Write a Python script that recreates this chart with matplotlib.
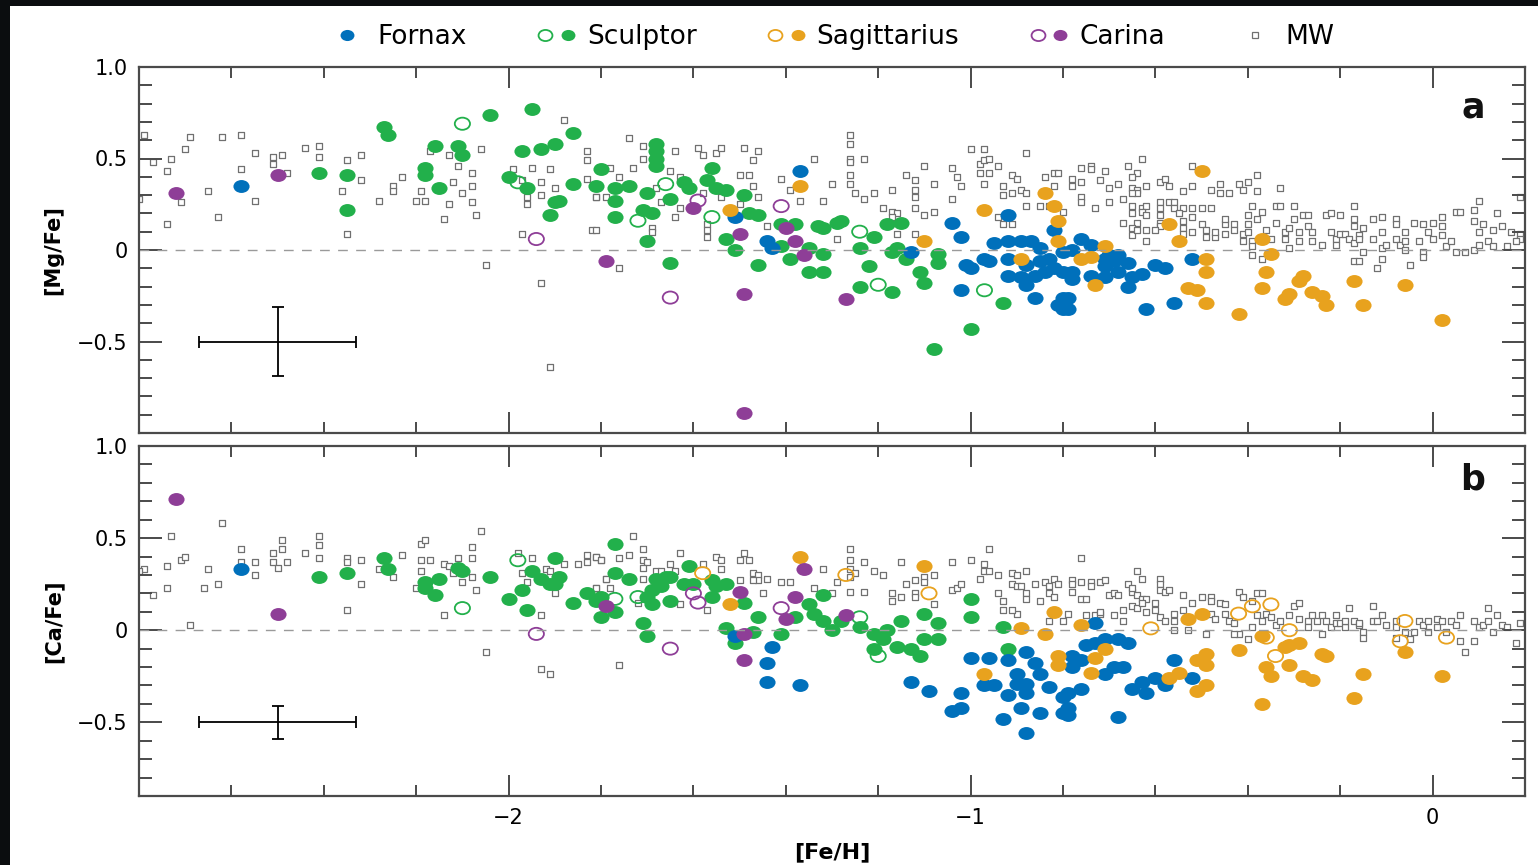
"""Mg/Fe and Ca/Fe against Fe/H for dwarf galaxies and the Milky Way"""
import numpy as np
import matplotlib
matplotlib.use("Agg")
import matplotlib.pyplot as plt
from matplotlib.path import Path
from matplotlib.lines import Line2D
from matplotlib.legend_handler import HandlerTuple
from matplotlib.ticker import MultipleLocator, FuncFormatter

BLUE = "#0070bb"
GREEN = "#22b04b"
ORANGE = "#e8a21e"
PURPLE = "#8e3e97"
MW_GRAY = "#707070"
AXIS_GRAY = "#4a4a4a"

plt.rcParams.update({
    "xtick.direction": "in", "ytick.direction": "in",
    "xtick.top": True, "ytick.right": True,
    "xtick.major.size": 15, "xtick.minor.size": 8,
    "ytick.major.size": 16.5, "ytick.minor.size": 9.5,
    "xtick.major.width": 1.4, "xtick.minor.width": 1.4,
    "ytick.major.width": 1.4, "ytick.minor.width": 1.4,
    "xtick.major.pad": 9, "ytick.major.pad": 8,
    "xtick.labelsize": 15, "ytick.labelsize": 15,
    "xtick.minor.visible": True, "ytick.minor.visible": True,
})

# ---- panel a : [Mg/Fe] ----
mg_fornax = [(-2.58, 0.35), (-1.51, 0.18), (-1.37, 0.43), (-1.44, 0.05), (-1.43, 0.01),
             (-1.13, -0.01), (-1.04, 0.15), (-1.02, 0.07), (-0.92, 0.19), (-1.02, -0.22),
             (-1.01, -0.08), (-1.00, -0.10), (-0.97, -0.05), (-0.95, 0.04), (-0.92, 0.05),
             (-0.89, 0.05), (-0.87, 0.05), (-0.85, 0.01), (-0.96, -0.06), (-0.92, -0.05),
             (-0.88, -0.08), (-0.85, -0.06), (-0.83, -0.05), (-0.80, -0.01), (-0.92, -0.14),
             (-0.89, -0.15), (-0.86, -0.14), (-0.84, -0.12), (-0.88, -0.19), (-0.82, -0.10),
             (-0.86, -0.26), (-0.80, -0.26), (-0.80, -0.32), (-0.82, 0.11), (-0.80, -0.12),
             (-0.78, 0.00), (-0.76, 0.06), (-0.74, 0.03), (-0.78, -0.12), (-0.78, -0.16),
             (-0.74, -0.14), (-0.71, -0.05), (-0.70, -0.03), (-0.68, -0.03), (-0.69, -0.06),
             (-0.71, -0.09), (-0.68, -0.12), (-0.66, -0.07), (-0.65, -0.15), (-0.66, -0.20),
             (-0.71, -0.15), (-0.63, -0.13), (-0.60, -0.08), (-0.58, -0.10), (-0.79, -0.26),
             (-0.79, -0.32), (-0.81, -0.30), (-0.62, -0.32), (-0.56, -0.29), (-0.52, -0.05)]
mg_sculptor = [(-2.41, 0.42), (-2.35, 0.41), (-2.35, 0.22), (-2.27, 0.67), (-2.26, 0.63),
               (-2.04, 0.74), (-1.95, 0.77), (-2.16, 0.57), (-2.18, 0.45), (-2.18, 0.41),
               (-2.15, 0.34), (-2.11, 0.57), (-2.10, 0.52), (-1.97, 0.54), (-1.93, 0.55),
               (-1.90, 0.58), (-1.86, 0.64), (-2.00, 0.40), (-1.96, 0.34), (-1.86, 0.36),
               (-1.90, 0.26), (-1.89, 0.27), (-1.91, 0.19), (-1.80, 0.44), (-1.81, 0.35),
               (-1.77, 0.34), (-1.74, 0.35), (-1.77, 0.27), (-1.77, 0.18), (-1.70, 0.31),
               (-1.71, 0.22), (-1.69, 0.20), (-1.70, 0.05), (-1.68, 0.58), (-1.68, 0.54),
               (-1.68, 0.50), (-1.68, 0.46), (-1.65, 0.28), (-1.65, -0.07), (-1.62, 0.37),
               (-1.61, 0.34), (-1.57, 0.38), (-1.56, 0.45), (-1.55, 0.34), (-1.53, 0.33),
               (-1.49, 0.30), (-1.48, 0.20), (-1.46, 0.19), (-1.53, 0.06), (-1.51, 0.00),
               (-1.46, -0.08), (-1.41, 0.14), (-1.38, 0.14), (-1.41, 0.02), (-1.39, -0.05),
               (-1.35, -0.12), (-1.32, -0.12), (-1.32, -0.02), (-1.35, 0.01), (-1.33, 0.13),
               (-1.32, 0.12), (-1.29, 0.15), (-1.28, 0.16), (-1.24, 0.01), (-1.22, -0.09),
               (-1.24, -0.20), (-1.17, -0.23), (-1.21, 0.07), (-1.18, 0.14), (-1.15, 0.15),
               (-1.17, -0.01), (-1.16, 0.01), (-1.14, -0.05), (-1.07, -0.02), (-1.07, -0.07),
               (-1.11, -0.12), (-1.10, -0.18), (-0.93, -0.29), (-1.00, -0.43), (-1.08, -0.54)]
mg_sculptor_open = [(-2.10, 0.69), (-1.98, 0.37), (-1.66, 0.36), (-1.72, 0.16), (-1.56, 0.18),
                    (-1.24, 0.10), (-1.20, -0.19), (-0.97, -0.22)]
mg_sagittarius = [(-1.52, 0.22), (-1.37, 0.35), (-1.10, 0.05), (-0.97, 0.22), (-0.89, -0.05),
                  (-0.84, 0.31), (-0.82, 0.24), (-0.81, 0.16), (-0.81, 0.05), (-0.71, 0.02),
                  (-0.76, -0.05), (-0.74, -0.04), (-0.73, -0.19), (-0.57, 0.14), (-0.55, 0.05),
                  (-0.50, 0.43), (-0.49, -0.05), (-0.49, -0.12), (-0.53, -0.21), (-0.51, -0.22),
                  (-0.49, -0.29), (-0.42, -0.35), (-0.37, 0.06), (-0.35, -0.02), (-0.36, -0.12),
                  (-0.37, -0.21), (-0.32, -0.27), (-0.31, -0.24), (-0.28, -0.14), (-0.29, -0.17),
                  (-0.26, -0.23), (-0.24, -0.25), (-0.23, -0.30), (-0.17, -0.17), (-0.15, -0.30),
                  (-0.06, -0.19), (0.02, -0.38)]
mg_sagittarius_open = []
mg_carina = [(-2.72, 0.31), (-2.50, 0.41), (-1.79, -0.06), (-1.60, 0.23), (-1.50, 0.09),
             (-1.49, -0.24), (-1.49, -0.89), (-1.40, 0.12), (-1.38, 0.05), (-1.36, -0.03),
             (-1.27, -0.27)]
mg_carina_open = [(-1.94, 0.06), (-1.59, 0.27), (-1.65, -0.26), (-1.41, 0.24)]
mg_mw = [(-2.79, 0.63), (-2.77, 0.48), (-2.73, 0.50), (-2.74, 0.43), (-2.70, 0.55), (-2.69, 0.62),
         (-2.62, 0.62), (-2.58, 0.63), (-2.71, 0.26), (-2.80, 0.28), (-2.74, 0.14), (-2.65, 0.32),
         (-2.63, 0.18), (-2.58, 0.44), (-2.55, 0.53), (-2.55, 0.27), (-2.51, 0.51), (-2.51, 0.47),
         (-2.49, 0.52), (-2.48, 0.42), (-2.44, 0.56), (-2.41, 0.57), (-2.41, 0.51), (-2.35, 0.49),
         (-2.32, 0.52), (-2.32, 0.38), (-2.36, 0.32), (-2.35, 0.09), (-2.28, 0.27), (-2.25, 0.35),
         (-2.25, 0.32), (-2.23, 0.40), (-2.20, 0.27), (-2.18, 0.27), (-2.19, 0.32), (-2.17, 0.54),
         (-2.13, 0.52), (-2.11, 0.46), (-2.12, 0.37), (-2.13, 0.25), (-2.14, 0.17), (-2.10, 0.31),
         (-2.08, 0.42), (-2.08, 0.35), (-2.08, 0.26), (-2.07, 0.19), (-2.06, 0.55), (-2.05, -0.08),
         (-1.99, 0.44), (-1.97, 0.09), (-1.96, 0.29), (-1.96, 0.25), (-1.95, 0.45), (-1.93, 0.37),
         (-1.93, 0.30), (-1.93, -0.18), (-1.91, 0.44), (-1.90, 0.34), (-1.91, -0.64), (-1.88, 0.71),
         (-1.83, 0.54), (-1.83, 0.49), (-1.83, 0.39), (-1.82, 0.11), (-1.81, 0.29), (-1.97, 0.38),
         (-1.74, 0.61), (-1.71, 0.57), (-1.71, 0.50), (-1.64, 0.54), (-1.59, 0.56), (-1.58, 0.52),
         (-1.55, 0.53), (-1.54, 0.56), (-1.49, 0.56), (-1.46, 0.54), (-1.47, 0.49), (-1.34, 0.50),
         (-1.26, 0.63), (-1.26, 0.58), (-1.26, 0.50), (-1.26, 0.48), (-1.23, 0.50), (-1.26, 0.41),
         (-1.26, 0.36), (-1.30, 0.36), (-1.41, 0.39), (-1.46, 0.29), (-1.47, 0.35), (-1.50, 0.41),
         (-1.48, 0.41), (-1.50, 0.25), (-1.54, 0.29), (-1.58, 0.31), (-1.57, 0.14), (-1.57, 0.11),
         (-1.57, 0.07), (-1.67, 0.26), (-1.68, 0.34), (-1.64, 0.18), (-1.63, 0.23), (-1.65, 0.43),
         (-1.63, 0.40), (-1.69, 0.12), (-1.69, 0.10), (-1.73, 0.45), (-1.76, 0.40), (-1.76, -0.10),
         (-1.78, 0.45), (-1.79, 0.29), (-1.81, 0.29), (-1.81, 0.11), (-1.44, 0.13), (-1.39, 0.33),
         (-1.37, 0.27), (-1.32, 0.27), (-1.29, 0.06), (-1.25, 0.31), (-1.23, 0.28), (-1.21, 0.31),
         (-1.19, 0.23), (-1.17, 0.33), (-1.17, 0.21), (-1.16, 0.20), (-1.17, 0.18), (-1.16, 0.09),
         (-1.14, 0.41), (-1.12, 0.38), (-1.12, 0.33), (-1.12, 0.29), (-1.12, 0.23), (-1.12, 0.09),
         (-1.10, 0.46), (-1.10, 0.19), (-1.08, 0.36), (-1.08, 0.21), (-1.04, 0.45), (-1.04, 0.28),
         (-1.03, 0.40), (-1.02, 0.35), (-1.00, 0.55), (-0.97, 0.55), (-0.98, 0.47), (-0.97, 0.49),
         (-0.96, 0.50), (-0.94, 0.46), (-0.98, 0.42), (-0.96, 0.42), (-0.97, 0.36), (-0.91, 0.41),
         (-0.90, 0.39), (-0.93, 0.35), (-0.91, 0.31), (-0.93, 0.30), (-0.89, 0.33), (-0.88, 0.31),
         (-0.88, 0.24), (-0.93, 0.14), (-0.91, 0.14), (-0.88, 0.53), (-0.84, 0.40), (-0.82, 0.42),
         (-0.81, 0.42), (-0.82, 0.35), (-0.85, 0.24), (-0.83, 0.24), (-0.80, 0.21), (-0.94, 0.18),
         (-0.63, 0.50), (-0.74, 0.46), (-0.76, 0.45), (-0.74, 0.44), (-0.71, 0.43), (-0.66, 0.46),
         (-0.64, 0.42), (-0.65, 0.40), (-0.52, 0.46), (-0.78, 0.39), (-0.78, 0.35), (-0.76, 0.37),
         (-0.72, 0.38), (-0.70, 0.34), (-0.68, 0.36), (-0.65, 0.34), (-0.64, 0.33), (-0.64, 0.31),
         (-0.62, 0.35), (-0.59, 0.37), (-0.58, 0.39), (-0.57, 0.35), (-0.52, 0.35), (-0.54, 0.32),
         (-0.48, 0.33), (-0.46, 0.36), (-0.44, 0.31), (-0.42, 0.36), (-0.40, 0.37), (-0.41, 0.33),
         (-0.38, 0.41), (-0.38, 0.32), (-0.33, 0.34), (-0.46, 0.31), (-0.76, 0.29), (-0.76, 0.26),
         (-0.73, 0.23), (-0.70, 0.26), (-0.67, 0.28), (-0.65, 0.31), (-0.65, 0.24), (-0.63, 0.23),
         (-0.62, 0.24), (-0.65, 0.20), (-0.63, 0.21), (-0.62, 0.19), (-0.59, 0.26), (-0.59, 0.23),
         (-0.57, 0.26), (-0.56, 0.26), (-0.56, 0.23), (-0.54, 0.23), (-0.52, 0.23), (-0.50, 0.23),
         (-0.48, 0.23), (-0.59, 0.19), (-0.55, 0.20), (-0.52, 0.18), (-0.59, 0.15), (-0.59, 0.13),
         (-0.67, 0.15), (-0.64, 0.15), (-0.65, 0.12), (-0.65, 0.08), (-0.62, 0.11), (-0.64, 0.11),
         (-0.62, 0.05), (-0.60, 0.11), (-0.54, 0.16), (-0.54, 0.12), (-0.54, 0.09), (-0.52, 0.10),
         (-0.50, 0.14), (-0.49, 0.11), (-0.49, 0.07), (-0.47, 0.07), (-0.47, 0.10), (-0.45, 0.14),
         (-0.45, 0.17), (-0.45, 0.09), (-0.43, 0.14), (-0.43, 0.11), (-0.41, 0.09), (-0.41, 0.05),
         (-0.40, 0.19), (-0.39, 0.24), (-0.37, 0.21), (-0.38, 0.17), (-0.40, 0.14), (-0.40, 0.10),
         (-0.39, 0.05), (-0.39, 0.02), (-0.39, -0.03), (-0.37, -0.05), (-0.36, 0.11), (-0.35, 0.06),
         (-0.34, 0.24), (-0.33, 0.24), (-0.34, 0.15), (-0.32, 0.10), (-0.30, 0.24), (-0.30, 0.17),
         (-0.31, 0.12), (-0.32, 0.06), (-0.31, 0.01), (-0.29, 0.10), (-0.29, 0.05), (-0.28, 0.19),
         (-0.27, 0.13), (-0.27, 0.19), (-0.26, 0.10), (-0.26, 0.05), (-0.24, 0.03), (-0.23, 0.19),
         (-0.22, 0.20), (-0.22, 0.10), (-0.21, 0.06), (-0.21, 0.03), (-0.20, 0.19), (-0.20, 0.09),
         (-0.19, 0.09), (-0.18, 0.06), (-0.17, 0.24), (-0.17, 0.17), (-0.17, 0.13), (-0.17, 0.04),
         (-0.16, 0.08), (-0.15, 0.12), (-0.16, 0.06), (-0.15, -0.01), (-0.17, -0.06), (-0.16, -0.06),
         (-0.13, 0.17), (-0.13, 0.06), (-0.11, 0.18), (-0.11, 0.10), (-0.11, 0.01), (-0.10, 0.03),
         (-0.11, -0.05), (-0.12, -0.10), (-0.08, 0.17), (-0.08, 0.14), (-0.08, 0.06), (-0.07, 0.03),
         (-0.06, 0.10), (-0.06, 0.05), (-0.06, 0.00), (-0.05, -0.08), (-0.04, 0.15), (-0.02, 0.14),
         (-0.03, 0.05), (-0.02, -0.01), (-0.02, -0.04), (-0.01, 0.10), (0.00, 0.06), (0.00, 0.15),
         (0.02, 0.18), (0.02, 0.13), (0.02, 0.08), (0.03, 0.02), (0.04, 0.05), (0.05, -0.01),
         (0.05, 0.21), (0.06, 0.21), (0.07, -0.01), (0.09, 0.22), (0.09, 0.16), (0.10, 0.27),
         (0.09, 0.00), (0.10, 0.03), (0.10, 0.10), (0.11, 0.14), (0.12, 0.05), (0.13, 0.11),
         (0.13, 0.02), (0.14, 0.20), (0.15, 0.13), (0.16, 0.02), (0.17, 0.10), (0.19, 0.09),
         (0.19, 0.06), (0.19, 0.29), (0.18, 0.05)]

# ---- panel b : [Ca/Fe] ----
ca_fornax = [(-2.58, 0.33), (-1.51, -0.03), (-1.43, -0.09), (-1.44, -0.18), (-1.44, -0.28),
             (-1.37, -0.30), (-1.13, -0.28), (-1.09, -0.33), (-1.02, -0.34), (-1.04, -0.44),
             (-1.02, -0.42), (-1.00, -0.15), (-0.96, -0.15), (-0.97, -0.30), (-0.95, -0.30),
             (-0.93, -0.48), (-0.92, -0.16), (-0.90, -0.24), (-0.88, -0.12), (-0.88, -0.29),
             (-0.92, -0.35), (-0.89, -0.42), (-0.85, -0.45), (-0.88, -0.56), (-0.88, -0.34),
             (-0.85, -0.24), (-0.83, -0.31), (-0.80, -0.36), (-0.80, -0.45), (-0.90, -0.29),
             (-0.86, -0.18), (-0.73, 0.04), (-0.75, -0.08), (-0.73, -0.07), (-0.71, -0.05),
             (-0.68, -0.05), (-0.66, -0.07), (-0.78, -0.14), (-0.76, -0.16), (-0.78, -0.20),
             (-0.71, -0.24), (-0.69, -0.20), (-0.67, -0.20), (-0.65, -0.32), (-0.76, -0.32),
             (-0.79, -0.34), (-0.79, -0.42), (-0.79, -0.46), (-0.63, -0.28), (-0.62, -0.34),
             (-0.60, -0.26), (-0.58, -0.30), (-0.56, -0.16), (-0.52, -0.26), (-0.68, -0.47)]
ca_sculptor = [(-2.41, 0.29), (-2.35, 0.31), (-2.27, 0.39), (-2.26, 0.33), (-2.18, 0.26),
               (-2.18, 0.23), (-2.16, 0.19), (-2.15, 0.28), (-2.11, 0.34), (-2.10, 0.32),
               (-2.04, 0.29), (-1.90, 0.39), (-1.95, 0.32), (-1.93, 0.28), (-1.91, 0.25),
               (-1.90, 0.25), (-1.89, 0.29), (-1.97, 0.22), (-2.00, 0.17), (-1.96, 0.11),
               (-1.86, 0.15), (-1.83, 0.20), (-1.81, 0.16), (-1.80, 0.07), (-1.77, 0.47),
               (-1.77, 0.31), (-1.74, 0.28), (-1.80, 0.18), (-1.77, 0.10), (-1.71, 0.04),
               (-1.70, -0.03), (-1.70, 0.18), (-1.69, 0.14), (-1.68, 0.28), (-1.67, 0.24),
               (-1.66, 0.29), (-1.65, 0.29), (-1.65, 0.16), (-1.69, 0.22), (-1.61, 0.35),
               (-1.62, 0.25), (-1.60, 0.25), (-1.56, 0.27), (-1.55, 0.24), (-1.53, 0.25),
               (-1.56, 0.18), (-1.49, 0.15), (-1.53, 0.01), (-1.51, -0.07), (-1.46, 0.07),
               (-1.47, -0.01), (-1.41, -0.02), (-1.38, 0.07), (-1.35, 0.14), (-1.34, 0.09),
               (-1.32, 0.05), (-1.30, 0.00), (-1.32, 0.19), (-1.28, 0.05), (-1.24, 0.02),
               (-1.21, -0.02), (-1.21, -0.10), (-1.19, -0.05), (-1.18, 0.00), (-1.15, 0.05),
               (-1.16, -0.09), (-1.13, -0.10), (-1.11, -0.14), (-1.07, 0.04), (-1.07, -0.05),
               (-1.10, 0.09), (-1.10, -0.05), (-1.00, 0.17), (-1.00, 0.07), (-0.93, 0.02),
               (-0.92, -0.10)]
ca_sculptor_open = [(-2.10, 0.12), (-1.98, 0.38), (-1.77, 0.17), (-1.72, 0.18), (-1.24, 0.07),
                    (-1.20, -0.14)]
ca_sagittarius = [(-1.52, 0.14), (-1.37, 0.40), (-1.10, 0.35), (-0.89, 0.01), (-0.84, -0.02),
                  (-0.82, 0.10), (-0.81, -0.14), (-0.81, -0.19), (-0.97, -0.24), (-0.76, 0.03),
                  (-0.71, -0.10), (-0.73, -0.15), (-0.74, -0.23), (-0.53, 0.06), (-0.50, 0.09),
                  (-0.51, -0.16), (-0.49, -0.13), (-0.49, -0.19), (-0.57, -0.26), (-0.55, -0.23),
                  (-0.51, -0.33), (-0.49, -0.30), (-0.42, -0.11), (-0.37, -0.03), (-0.36, -0.20),
                  (-0.35, -0.25), (-0.37, -0.40), (-0.32, -0.09), (-0.31, -0.08), (-0.29, -0.07),
                  (-0.31, -0.19), (-0.28, -0.25), (-0.26, -0.27), (-0.24, -0.13), (-0.23, -0.14),
                  (-0.17, -0.37), (-0.15, -0.24), (-0.06, -0.12), (0.02, -0.25)]
ca_sagittarius_open = [(-1.58, 0.31), (-1.27, 0.30), (-1.09, 0.20), (-0.61, 0.01), (-0.42, 0.09),
                       (-0.39, 0.13), (-0.35, 0.14), (-0.36, -0.04), (-0.31, 0.00), (-0.34, -0.14),
                       (-0.06, 0.05), (-0.07, -0.06), (0.03, -0.04)]
ca_carina = [(-2.72, 0.71), (-2.50, 0.09), (-1.79, 0.13), (-1.50, 0.21), (-1.49, -0.02),
             (-1.49, -0.16), (-1.36, 0.33), (-1.38, 0.18), (-1.40, 0.06), (-1.27, 0.08)]
ca_carina_open = [(-1.94, -0.02), (-1.65, -0.10), (-1.60, 0.20), (-1.59, 0.15), (-1.41, 0.12)]
ca_mw = [(-2.79, 0.33), (-2.80, 0.32), (-2.77, 0.19), (-2.74, 0.35), (-2.73, 0.51), (-2.71, 0.38),
         (-2.70, 0.40), (-2.74, 0.23), (-2.69, 0.03), (-2.66, 0.23), (-2.65, 0.33), (-2.63, 0.25),
         (-2.62, 0.58), (-2.58, 0.44), (-2.58, 0.37), (-2.55, 0.37), (-2.55, 0.30), (-2.51, 0.42),
         (-2.51, 0.37), (-2.50, 0.34), (-2.49, 0.49), (-2.49, 0.44), (-2.48, 0.37), (-2.44, 0.42),
         (-2.41, 0.51), (-2.41, 0.46), (-2.41, 0.39), (-2.35, 0.39), (-2.35, 0.37), (-2.32, 0.38),
         (-2.32, 0.25), (-2.35, 0.11), (-2.28, 0.33), (-2.25, 0.29), (-2.23, 0.41), (-2.20, 0.23),
         (-2.19, 0.38), (-2.19, 0.47), (-2.18, 0.49), (-2.17, 0.38), (-2.19, 0.32), (-2.14, 0.36),
         (-2.13, 0.35), (-2.12, 0.31), (-2.11, 0.39), (-2.10, 0.26), (-2.08, 0.45), (-2.08, 0.39),
         (-2.08, 0.29), (-2.07, 0.22), (-2.14, 0.08), (-2.06, 0.54), (-2.05, -0.12), (-1.98, 0.42),
         (-1.95, 0.39), (-1.97, 0.31), (-1.96, 0.26), (-1.92, 0.33), (-1.91, 0.32), (-1.90, 0.20),
         (-1.93, 0.08), (-1.93, -0.21), (-1.91, -0.24), (-1.88, 0.36), (-1.85, 0.36), (-1.83, 0.41),
         (-1.83, 0.37), (-1.81, 0.40), (-1.80, 0.38), (-1.81, 0.23), (-1.79, 0.28),
         (-1.73, 0.51), (-1.71, 0.44), (-1.81, 0.40), (-1.80, 0.38), (-1.76, 0.39), (-1.74, 0.41),
         (-1.71, 0.38), (-1.70, 0.37), (-1.71, 0.34), (-1.63, 0.42), (-1.65, 0.36), (-1.64, 0.32),
         (-1.68, 0.32), (-1.67, 0.32), (-1.79, 0.28), (-1.71, 0.28), (-1.81, 0.23), (-1.78, 0.23),
         (-1.72, 0.15), (-1.63, 0.14), (-1.58, 0.36), (-1.55, 0.40), (-1.54, 0.38), (-1.54, 0.33),
         (-1.49, 0.42), (-1.50, 0.38), (-1.48, 0.38), (-1.47, 0.31), (-1.46, 0.30), (-1.46, 0.27),
         (-1.47, 0.27), (-1.44, 0.28), (-1.50, 0.27), (-1.45, 0.20), (-1.57, 0.11), (-1.41, 0.26),
         (-1.39, 0.26), (-1.34, 0.23), (-1.32, 0.33), (-1.30, 0.20), (-1.29, 0.26), (-1.26, 0.44),
         (-1.26, 0.38), (-1.26, 0.33), (-1.26, 0.29), (-1.25, 0.31), (-1.23, 0.37), (-1.21, 0.32),
         (-1.19, 0.30), (-1.26, 0.21), (-1.23, 0.21), (-1.17, 0.20), (-1.17, 0.16), (-1.15, 0.18),
         (-1.15, 0.37), (-1.14, 0.25), (-1.12, 0.27), (-1.12, 0.20), (-1.12, 0.18), (-1.10, 0.29),
         (-1.10, 0.26), (-1.08, 0.30), (-1.08, 0.14), (-1.04, 0.37), (-1.04, 0.22), (-1.03, 0.23),
         (-1.02, 0.25), (-1.00, 0.38), (-0.98, 0.28), (-0.97, 0.36), (-0.97, 0.32), (-0.96, 0.32),
         (-0.94, 0.30), (-0.96, 0.44), (-0.94, 0.20), (-0.93, 0.16), (-0.93, 0.11), (-0.91, 0.31),
         (-0.90, 0.30), (-0.91, 0.25), (-0.90, 0.24), (-0.89, 0.24), (-0.88, 0.32), (-0.88, 0.20),
         (-0.88, 0.17), (-0.90, 0.09), (-0.91, 0.11), (-0.86, 0.25), (-0.85, 0.16), (-0.84, 0.26),
         (-0.83, 0.24), (-0.82, 0.28), (-0.83, 0.20), (-0.82, 0.18), (-0.81, 0.25), (-0.83, 0.05),
         (-0.80, 0.05), (-1.76, -0.19),
         (-0.76, 0.39), (-0.64, 0.32), (-0.63, 0.28), (-0.78, 0.27), (-0.78, 0.25), (-0.76, 0.26),
         (-0.74, 0.26), (-0.74, 0.24), (-0.72, 0.26), (-0.71, 0.27), (-0.78, 0.21), (-0.76, 0.17),
         (-0.75, 0.17), (-0.70, 0.19), (-0.69, 0.20), (-0.68, 0.19), (-0.66, 0.25), (-0.65, 0.21),
         (-0.65, 0.23), (-0.64, 0.19), (-0.63, 0.17), (-0.62, 0.17), (-0.59, 0.28), (-0.59, 0.25),
         (-0.59, 0.22), (-0.58, 0.21), (-0.57, 0.22), (-0.54, 0.19), (-0.52, 0.15), (-0.50, 0.18),
         (-0.48, 0.18), (-0.48, 0.16), (-0.46, 0.15), (-0.45, 0.14), (-0.79, 0.09), (-0.75, 0.08),
         (-0.73, 0.08), (-0.72, 0.09), (-0.72, 0.10), (-0.69, 0.08), (-0.67, 0.11), (-0.67, 0.05),
         (-0.65, 0.13), (-0.64, 0.12), (-0.63, 0.15), (-0.62, 0.10), (-0.60, 0.15), (-0.60, 0.11),
         (-0.59, 0.07), (-0.58, 0.05), (-0.56, 0.09), (-0.56, 0.05), (-0.54, 0.11), (-0.53, 0.00),
         (-0.56, 0.00), (-0.48, 0.09), (-0.47, 0.06), (-0.45, 0.09), (-0.44, 0.05), (-0.43, 0.04),
         (-0.42, 0.21), (-0.41, 0.18), (-0.38, 0.20), (-0.37, 0.20), (-0.39, 0.16), (-0.38, 0.08),
         (-0.37, 0.05), (-0.36, 0.09), (-0.35, 0.07), (-0.34, 0.03), (-0.33, 0.05), (-0.31, 0.08),
         (-0.30, 0.13), (-0.29, 0.15), (-0.29, 0.06), (-0.27, 0.05), (-0.27, 0.02), (-0.26, 0.08),
         (-0.25, 0.05), (-0.24, -0.02), (-0.24, 0.08), (-0.23, 0.05), (-0.22, 0.02), (-0.21, 0.08),
         (-0.21, 0.04), (-0.20, 0.04), (-0.19, 0.02), (-0.19, 0.05), (-0.18, 0.12), (-0.17, 0.05),
         (-0.16, 0.03), (-0.16, 0.04), (-0.15, -0.01), (-0.15, -0.04), (-0.13, 0.13), (-0.13, 0.05),
         (-0.12, 0.05), (-0.11, 0.08), (-0.10, 0.03), (-0.08, 0.05), (-0.08, 0.02), (-0.08, -0.04),
         (-0.06, -0.01), (-0.05, -0.05), (-0.04, -0.01), (-0.03, 0.05), (-0.02, 0.03), (-0.01, 0.05),
         (-0.01, -0.01), (0.01, 0.06), (0.01, 0.02), (0.02, 0.05), (0.03, -0.01), (0.04, 0.05),
         (0.05, 0.03), (0.06, 0.08), (0.06, -0.06), (0.07, -0.12), (0.09, 0.05), (0.10, 0.02),
         (0.09, -0.06), (0.11, 0.03), (0.12, 0.12), (0.12, 0.05), (0.13, -0.01), (0.14, 0.08),
         (0.15, 0.03), (0.16, 0.02), (0.18, -0.07), (0.19, 0.04), (-0.42, -0.02), (-0.39, 0.02),
         (-0.43, -0.02), (-0.40, -0.05), (-0.49, -0.02)]

# typical error bars (x, y, xerr, yerr) for each panel
mg_error = (-2.5, -0.5, 0.17, 0.19)
ca_error = (-2.5, -0.5, 0.17, 0.09)

# circles in the original are a bit wider than tall
_circ = Path.unit_circle()
ELLIPSE = Path(_circ.vertices * np.array([1.25, 1.0]), _circ.codes)


def xy(points):
    """Split a list of (x, y) pairs"""
    arr = np.array(points)
    return arr[:, 0], arr[:, 1]


def minus(text):
    return text.replace("-", "\u2212")


def draw_panel(ax, mw, groups, error, ylim, hide_bottom, ylabel, letter, letter_y):
    """Draw one panel of the figure"""
    ax.set_xlim(-2.8, 0.2)
    ax.set_ylim(*ylim)
    ax.xaxis.set_major_locator(MultipleLocator(1))
    ax.xaxis.set_minor_locator(MultipleLocator(0.2))
    ax.yaxis.set_major_locator(MultipleLocator(0.5))
    ax.yaxis.set_minor_locator(MultipleLocator(0.1))

    ax.plot([-2.8, 0.2], [0, 0], color="#9a9a9a", lw=1.0, ls=(0, (7, 6)))
    x, y = xy(mw)
    ax.scatter(x, y, marker="s", s=16, facecolor="white", edgecolor=MW_GRAY, linewidths=0.9)
    for pts, color, filled in groups:
        if not pts:
            continue
        x, y = xy(pts)
        if filled:
            ax.scatter(x, y, marker=ELLIPSE, s=135, color=color, linewidths=0)
        else:
            ax.scatter(x, y, marker=ELLIPSE, s=120, facecolor="none", edgecolor=color,
                       linewidths=1.3)
    ex, ey, exerr, eyerr = error
    ax.errorbar(ex, ey, xerr=exerr, yerr=eyerr, color="black", lw=1.3, capsize=4,
                capthick=1.3)

    def yfmt(v, pos):
        if abs(v) < 1e-9:
            return "0"
        if hide_bottom and v < ylim[0] + 0.05:
            return ""
        return minus(f"{v:.1f}")

    ax.yaxis.set_major_formatter(FuncFormatter(yfmt))
    for sp in ax.spines.values():
        sp.set_color(AXIS_GRAY)
        sp.set_linewidth(1.6)
    ax.set_ylabel(ylabel, fontsize=15, fontweight="bold", labelpad=10)
    ax.annotate(letter, xy=(0.9625, letter_y), xycoords="axes fraction", fontsize=25,
                fontweight="bold", ha="center", va="center", color="#111111")
    ax.tick_params(which="both", color=AXIS_GRAY)


fig = plt.figure(figsize=(15.38, 8.65), dpi=100)
W, H = 1538.0, 865.0

# dark border of the original slide
edge_left = fig.add_axes([0, 0, 10 / W, 1])
edge_top = fig.add_axes([0, 1 - 6 / H, 1, 6 / H])
for e in (edge_left, edge_top):
    e.set_facecolor("#0b0d0f")
    e.set_xticks([])
    e.set_yticks([])
    for sp in e.spines.values():
        sp.set_visible(False)

ax1 = fig.add_axes([139 / W, 1 - 433 / H, 1386 / W, 366 / H])
ax2 = fig.add_axes([139 / W, 1 - 796 / H, 1386 / W, 350 / H])

draw_panel(ax1, mg_mw,
           [(mg_sculptor, GREEN, True), (mg_sculptor_open, GREEN, False),
            (mg_fornax, BLUE, True),
            (mg_sagittarius, ORANGE, True), (mg_sagittarius_open, ORANGE, False),
            (mg_carina, PURPLE, True), (mg_carina_open, PURPLE, False)],
           mg_error, (-1.0, 1.0), True, "[Mg/Fe]", "a", 0.89)
draw_panel(ax2, ca_mw,
           [(ca_sculptor, GREEN, True), (ca_sculptor_open, GREEN, False),
            (ca_fornax, BLUE, True),
            (ca_sagittarius, ORANGE, True), (ca_sagittarius_open, ORANGE, False),
            (ca_carina, PURPLE, True), (ca_carina_open, PURPLE, False)],
           ca_error, (-0.9, 1.0), False, "[Ca/Fe]", "b", 0.905)
ax2.xaxis.set_major_formatter(FuncFormatter(lambda v, p: minus(f"{v:.0f}") if abs(v) > 1e-9 else "0"))
ax1.tick_params(axis="x", labelbottom=False)
ax2.set_xlabel("[Fe/H]", fontsize=16, fontweight="bold", labelpad=10)


# legend across the top
def filled(c):
    return Line2D([], [], ls="none", marker=ELLIPSE, ms=10, mfc=c, mec=c, mew=0)


def hollow(c):
    return Line2D([], [], ls="none", marker=ELLIPSE, ms=10, mfc="none", mec=c, mew=1.3)


handles = [filled(BLUE), (hollow(GREEN), filled(GREEN)), (hollow(ORANGE), filled(ORANGE)),
           (hollow(PURPLE), filled(PURPLE)),
           Line2D([], [], ls="none", marker="s", ms=4.5, mfc="white", mec=MW_GRAY, mew=0.9)]
labels = ["Fornax", "Sculptor", "Sagittarius", "Carina", "MW"]
fig.legend(handles, labels, loc="center", bbox_to_anchor=(830 / W, 1 - 37 / H), ncol=5,
           frameon=False, fontsize=19, columnspacing=2.6, handletextpad=0.35,
           handlelength=1.6, handler_map={tuple: HandlerTuple(ndivide=None, pad=0.1)})

fig.savefig("out.png", dpi=100)
